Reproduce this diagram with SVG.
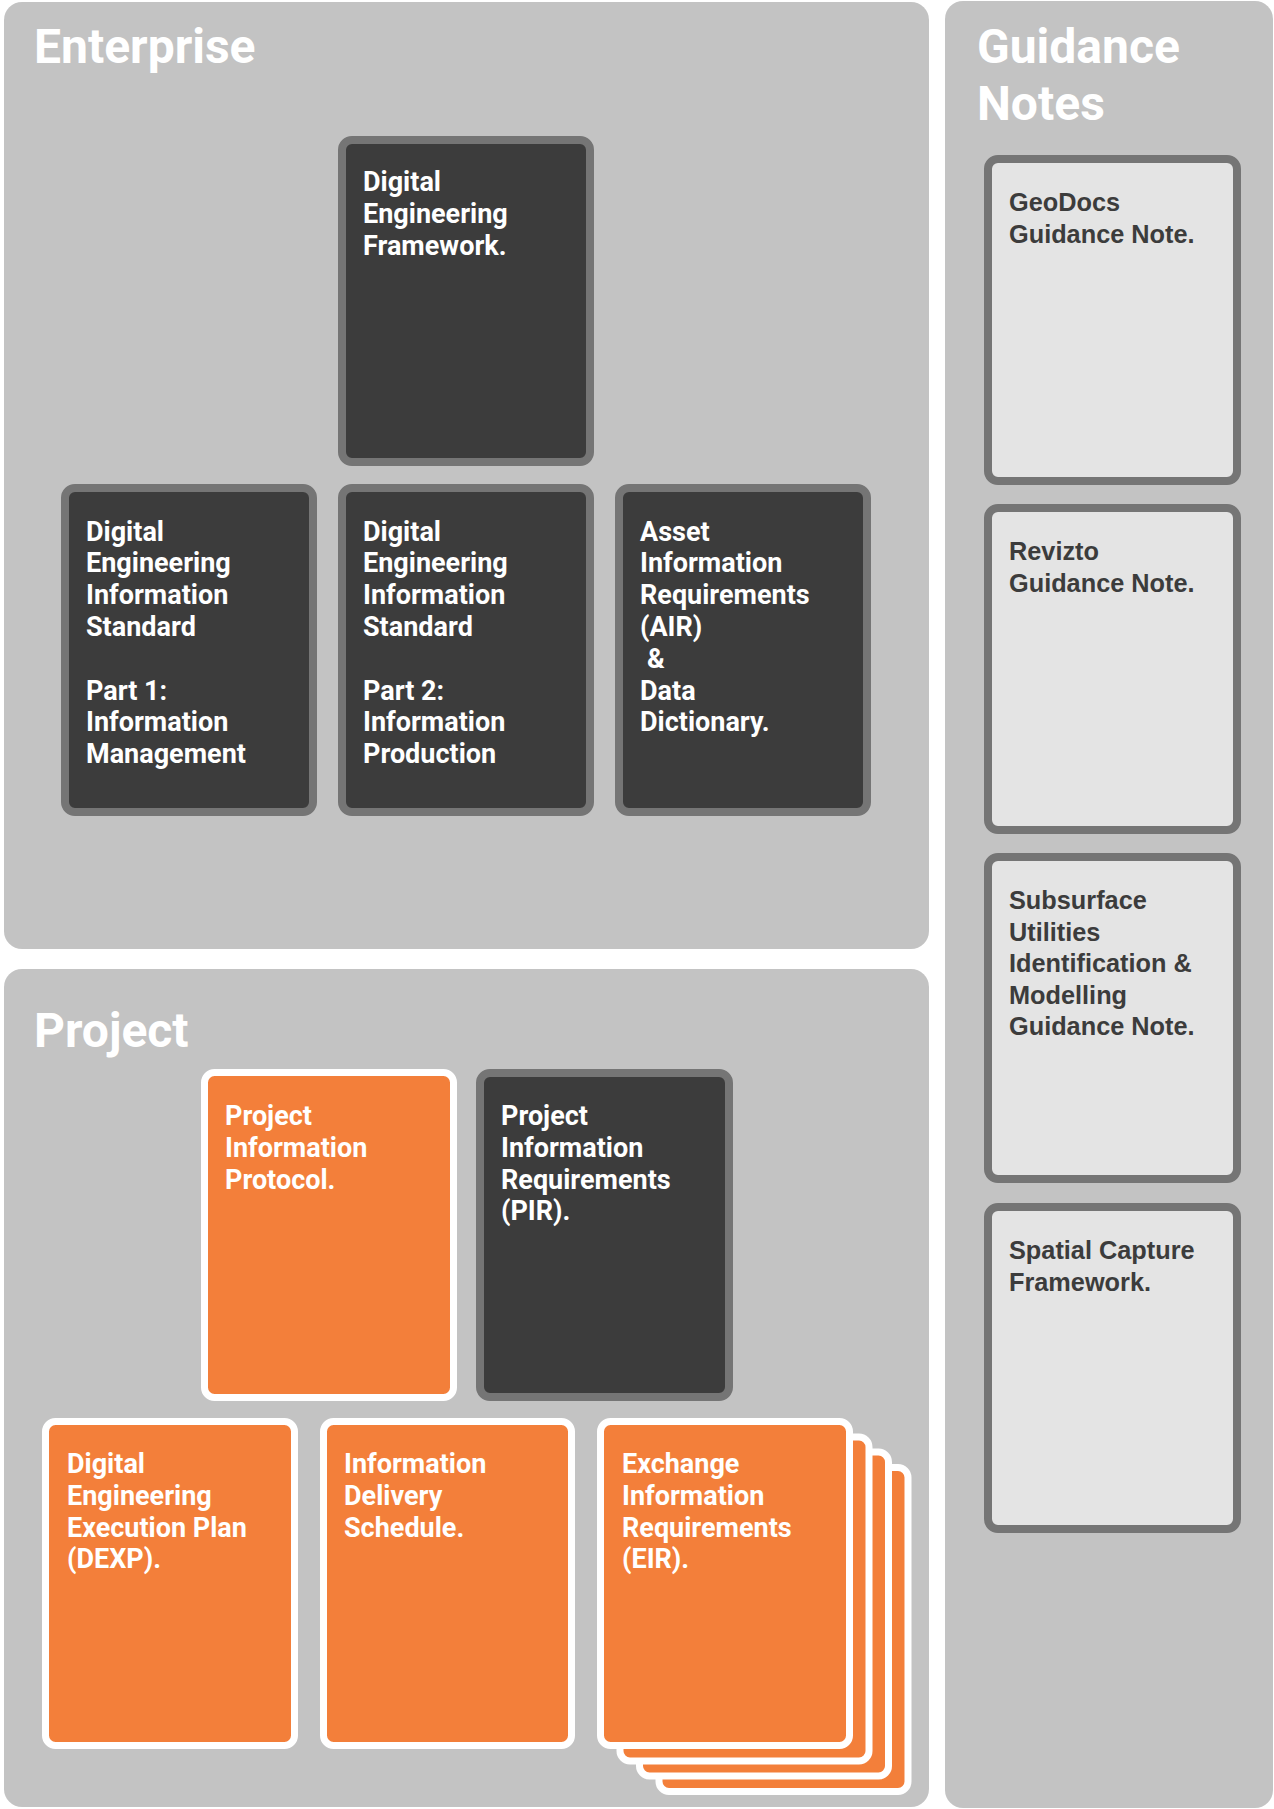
<svg xmlns="http://www.w3.org/2000/svg" width="1274" height="1809" viewBox="0 0 1274 1809">
<style>
.panel{fill:#c3c3c3}
.title{font-family:Roboto,"Liberation Sans",sans-serif;font-weight:700;font-size:48px;fill:#ffffff}
.dark rect{fill:#3c3c3c;stroke:#757575;stroke-width:8}
.orange rect{fill:#f37f3a;stroke:#ffffff;stroke-width:7}
.light rect{fill:#e4e4e4;stroke:#757575;stroke-width:8}
.dt{font-family:Roboto,"Liberation Sans",sans-serif;font-weight:700;font-size:27px;fill:#ffffff}
.lt{font-family:"Liberation Sans",Arial,sans-serif;font-weight:700;font-size:25.3px;fill:#3c3c3c}
</style>
<rect width="1274" height="1809" fill="#ffffff"/>
<g id="panels">
<rect class="panel" x="4" y="2" width="925" height="947" rx="18"/>
<rect class="panel" x="4" y="969" width="925" height="838" rx="18"/>
<rect class="panel" x="945" y="1" width="328" height="1807" rx="18"/>
<text class="title" x="34" y="63">Enterprise</text>
<text class="title" x="34" y="1047">Project</text>
<text class="title" x="977" y="63">Guidance<tspan x="977" y="120">Notes</tspan></text>
</g>
<g id="connectors"></g>
<g id="def" class="dark">
<rect x="342" y="140" width="248" height="322" rx="10"/>
<text class="dt" x="363" y="191">Digital<tspan x="363" dy="31.8">Engineering</tspan><tspan x="363" dy="31.8">Framework.</tspan></text>
</g>
<g id="deis1" class="dark">
<rect x="65" y="488" width="248" height="324" rx="10"/>
<text class="dt" x="86" y="540.5">Digital<tspan x="86" dy="31.8">Engineering</tspan><tspan x="86" dy="31.8">Information</tspan><tspan x="86" dy="31.8">Standard</tspan><tspan x="86" dy="63.6">Part 1:</tspan><tspan x="86" dy="31.8">Information</tspan><tspan x="86" dy="31.8">Management</tspan></text>
</g>
<g id="deis2" class="dark">
<rect x="342" y="488" width="248" height="324" rx="10"/>
<text class="dt" x="363" y="540.5">Digital<tspan x="363" dy="31.8">Engineering</tspan><tspan x="363" dy="31.8">Information</tspan><tspan x="363" dy="31.8">Standard</tspan><tspan x="363" dy="63.6">Part 2:</tspan><tspan x="363" dy="31.8">Information</tspan><tspan x="363" dy="31.8">Production</tspan></text>
</g>
<g id="air" class="dark">
<rect x="619" y="488" width="248" height="324" rx="10"/>
<text class="dt" x="640" y="540.5">Asset<tspan x="640" dy="31.8">Information</tspan><tspan x="640" dy="31.8">Requirements</tspan><tspan x="640" dy="31.8">(AIR)</tspan><tspan x="647" dy="31.8">&amp;</tspan><tspan x="640" dy="31.8">Data</tspan><tspan x="640" dy="31.8">Dictionary.</tspan></text>
</g>
<g id="pip" class="orange">
<rect x="204.5" y="1072.5" width="249" height="325" rx="10"/>
<text class="dt" x="225" y="1125">Project<tspan x="225" dy="31.8">Information</tspan><tspan x="225" dy="31.8">Protocol.</tspan></text>
</g>
<g id="pir" class="dark">
<rect x="480" y="1073" width="249" height="324" rx="10"/>
<text class="dt" x="501" y="1125">Project<tspan x="501" dy="31.8">Information</tspan><tspan x="501" dy="31.8">Requirements</tspan><tspan x="501" dy="31.8">(PIR).</tspan></text>
</g>
<g id="dexp" class="orange">
<rect x="45.5" y="1421.5" width="249" height="324" rx="10"/>
<text class="dt" x="67" y="1473">Digital<tspan x="67" dy="31.8">Engineering</tspan><tspan x="67" dy="31.8">Execution Plan</tspan><tspan x="67" dy="31.8">(DEXP).</tspan></text>
</g>
<g id="ids" class="orange">
<rect x="323.5" y="1421.5" width="248" height="324" rx="10"/>
<text class="dt" x="344" y="1473">Information<tspan x="344" dy="31.8">Delivery</tspan><tspan x="344" dy="31.8">Schedule.</tspan></text>
</g>
<g id="eir" class="orange">
<rect x="659" y="1467.5" width="249" height="324" rx="10"/>
<rect x="639.5" y="1452" width="249" height="324" rx="10"/>
<rect x="620" y="1437" width="249" height="324" rx="10"/>
<rect x="600.5" y="1421.5" width="249" height="324" rx="10"/>
<text class="dt" x="622" y="1473">Exchange<tspan x="622" dy="31.8">Information</tspan><tspan x="622" dy="31.8">Requirements</tspan><tspan x="622" dy="31.8">(EIR).</tspan></text>
</g>
<g id="geodocs" class="light">
<rect x="988" y="159" width="249" height="322" rx="10"/>
<text class="lt" x="1009" y="211">GeoDocs<tspan x="1009" dy="31.6">Guidance Note.</tspan></text>
</g>
<g id="revizto" class="light">
<rect x="988" y="508" width="249" height="322" rx="10"/>
<text class="lt" x="1009" y="560">Revizto<tspan x="1009" dy="31.6">Guidance Note.</tspan></text>
</g>
<g id="subsurface" class="light">
<rect x="988" y="857" width="249" height="322" rx="10"/>
<text class="lt" x="1009" y="909">Subsurface<tspan x="1009" dy="31.6">Utilities</tspan><tspan x="1009" dy="31.6">Identification &amp;</tspan><tspan x="1009" dy="31.6">Modelling</tspan><tspan x="1009" dy="31.6">Guidance Note.</tspan></text>
</g>
<g id="spatial" class="light">
<rect x="988" y="1207" width="249" height="322" rx="10"/>
<text class="lt" x="1009" y="1259">Spatial Capture<tspan x="1009" dy="31.6">Framework.</tspan></text>
</g>
</svg>
